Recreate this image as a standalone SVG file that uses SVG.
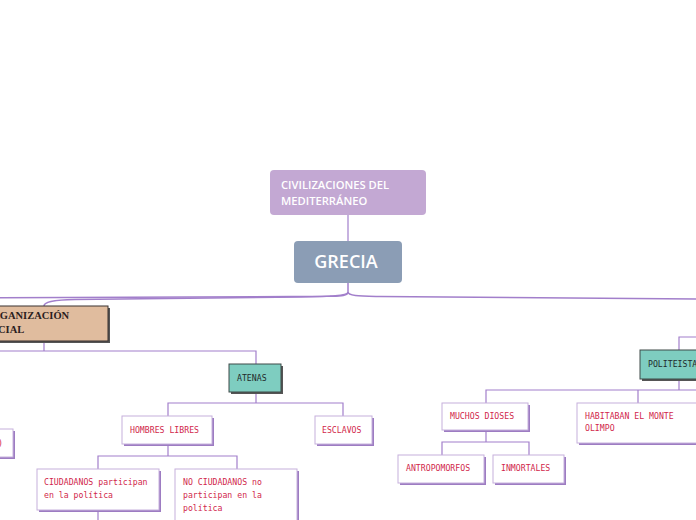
<svg xmlns="http://www.w3.org/2000/svg" width="696" height="520" viewBox="0 0 696 520">
<style>
.c{fill:none;stroke:#a27fcb;stroke-width:1.2}
.cm{fill:none;stroke:#a27fcb;stroke-width:1.5}
.wb{fill:#fff;stroke:#c6b0dc;stroke-width:1}
.ws{fill:#9d7cc2}
.tb{fill:#7ecdc0;stroke:#3f4a48;stroke-width:1}
.ts{fill:#555}
.px{font-family:"DejaVu Sans Mono","Liberation Mono",monospace;font-size:8.2px;fill:#d11f4b}
.pxd{font-family:"DejaVu Sans Mono","Liberation Mono",monospace;font-size:8.2px;fill:#1f2a2a}
.ro{font-family:"Open Sans","Noto Sans",sans-serif;fill:#fff}
</style>
<rect width="696" height="520" fill="#fff"/>
<g id="connectors">
<path class="c" d="M348,215 V241"/>
<path class="cm" d="M348,283 V292 C348,296 340,296 330,296.3 L0,297.8"/>
<path class="cm" d="M348,292 C348,296 330,296.5 300,297 L75,299.5 C52,300 44,302 44,306"/>
<path class="cm" d="M348,292 C348,296 360,296 380,296.5 L696,299"/>
<path class="c" d="M44,341 V351 M0,351 H256 V364"/>
<path class="c" d="M256,392 V403 M168,416 V403 H343 V416"/>
<path class="c" d="M168,444 V456 M98,469 V456 H237 V469"/>
<path class="c" d="M98,510 V520"/>
<path class="c" d="M679,350 V337 H696"/>
<path class="c" d="M679,379 V390 M486,403 V390 H696 M638,390 V403"/>
<path class="c" d="M486,430 V442 M442,455 V442 H529 V455"/>
</g>
<g id="civilizaciones">
<rect x="270" y="170" width="156" height="45" rx="4" fill="#c3a8d3"/>
<text class="ro" x="281" y="189" font-size="11.2" font-weight="600">CIVILIZACIONES DEL</text>
<text class="ro" x="281" y="205" font-size="11.2" font-weight="600">MEDITERRÁNEO</text>
</g>
<g id="grecia">
<rect x="294" y="241" width="108" height="42" rx="4" fill="#8b9db5"/>
<text class="ro" x="346" y="268" font-size="18" font-weight="600" text-anchor="middle">GRECIA</text>
</g>
<g id="organizacion">
<rect x="-20" y="308" width="130" height="35" fill="#555"/>
<rect x="-20" y="306" width="128" height="35" fill="#e0bc9e" stroke="#3a3230" stroke-width="1"/>
<text x="-16" y="319" font-family="'Liberation Serif',serif" font-weight="bold" font-size="10.5" fill="#2a2020">ORGANIZACIÓN</text>
<text x="-16" y="333" font-family="'Liberation Serif',serif" font-weight="bold" font-size="10.5" fill="#2a2020">SOCIAL</text>
</g>
<g id="atenas">
<rect class="ts" x="231" y="366" width="52" height="28"/>
<rect class="tb" x="229" y="364" width="52" height="28"/>
<text class="pxd" x="237" y="381">ATENAS</text>
</g>
<g id="leftbox">
<rect class="ws" x="-20" y="431" width="35" height="28"/>
<rect class="wb" x="-20" y="429" width="33" height="28"/>
<text class="px" x="-2" y="446">)</text>
</g>
<g id="hombres">
<rect class="ws" x="124" y="418" width="90" height="28"/>
<rect class="wb" x="122" y="416" width="90" height="28"/>
<text class="px" x="130" y="433">HOMBRES LIBRES</text>
</g>
<g id="esclavos">
<rect class="ws" x="317" y="418" width="57" height="28"/>
<rect class="wb" x="315" y="416" width="57" height="28"/>
<text class="px" x="322" y="433">ESCLAVOS</text>
</g>
<g id="ciudadanos">
<rect class="ws" x="39" y="471" width="122" height="41"/>
<rect class="wb" x="37" y="469" width="122" height="41"/>
<text class="px" x="44" y="485">CIUDADANOS participan</text>
<text class="px" x="44" y="498">en la política</text>
</g>
<g id="nociudadanos">
<rect class="ws" x="177" y="471" width="122" height="55"/>
<rect class="wb" x="175" y="469" width="122" height="55"/>
<text class="px" x="183" y="485">NO CIUDADANOS no</text>
<text class="px" x="183" y="498">participan en la</text>
<text class="px" x="183" y="511">política</text>
</g>
<g id="politeista">
<rect class="ts" x="642" y="352" width="70" height="29"/>
<rect class="tb" x="640" y="350" width="70" height="29"/>
<text class="pxd" x="648" y="367">POLITEISTA</text>
</g>
<g id="muchos">
<rect class="ws" x="444" y="405" width="86" height="27"/>
<rect class="wb" x="442" y="403" width="86" height="27"/>
<text class="px" x="450" y="419">MUCHOS DIOSES</text>
</g>
<g id="habitaban">
<rect class="ws" x="579" y="405" width="130" height="40"/>
<rect class="wb" x="577" y="403" width="130" height="40"/>
<text class="px" x="585" y="419">HABITABAN EL MONTE</text>
<text class="px" x="585" y="431">OLIMPO</text>
</g>
<g id="antropomorfos">
<rect class="ws" x="400" y="457" width="86" height="28"/>
<rect class="wb" x="398" y="455" width="86" height="28"/>
<text class="px" x="406" y="471">ANTROPOMORFOS</text>
</g>
<g id="inmortales">
<rect class="ws" x="495" y="457" width="71" height="28"/>
<rect class="wb" x="493" y="455" width="71" height="28"/>
<text class="px" x="501" y="471">INMORTALES</text>
</g>
</svg>
